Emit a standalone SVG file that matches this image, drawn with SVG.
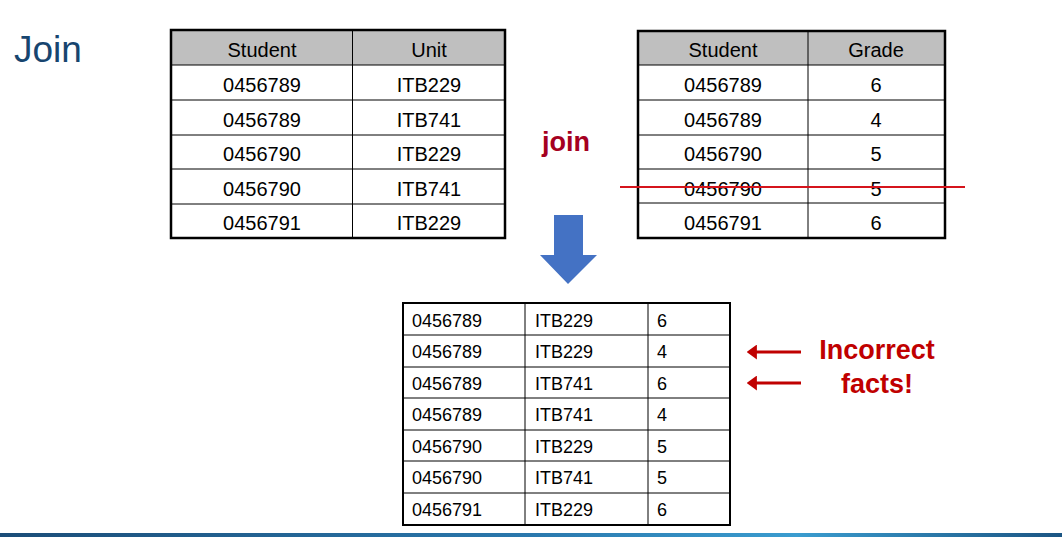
<svg xmlns="http://www.w3.org/2000/svg" width="1062" height="537" viewBox="0 0 1062 537">
<style>
text{font-family:"Liberation Sans",Arial,sans-serif;fill:#000}
.t{font-size:20px;text-anchor:middle}
.b{font-size:18px}
.hd{fill:#bfbfbf}
.in{stroke:#000;stroke-width:1;fill:none}
.out{stroke:#000;stroke-width:2.5;fill:none}
.red{font-weight:bold;fill:#c00000;font-size:27px;text-anchor:middle}
</style>
<defs>
<linearGradient id="bar" x1="0" x2="1" y1="0" y2="0">
<stop offset="0" stop-color="#1b4d78"/>
<stop offset="0.5" stop-color="#2a78ad"/>
<stop offset="0.75" stop-color="#3a9ccf"/>
<stop offset="1" stop-color="#1b5583"/>
</linearGradient>
<marker id="ah" markerWidth="3.4" markerHeight="5" refX="0.3" refY="2.5" orient="auto" markerUnits="strokeWidth">
<path d="M0,0 L3.4,2.5 L0,5 Z" fill="#c00000"/>
</marker>
</defs>
<rect width="1062" height="537" fill="#fff"/>
<text x="14" y="62" style="font-size:37px;fill:#17456f">Join</text>

<g id="table-unit">
<rect x="171" y="30" width="334" height="35" class="hd"/>
<path class="in" d="M171,65H505M171,100H505M171,135H505M171,169H505M171,204H505M352.5,30V238"/>
<rect x="171" y="30" width="334" height="208" class="out"/>
<text class="t" x="262" y="57">Student</text><text class="t" x="429" y="57">Unit</text>
<text class="t" x="262" y="92">0456789</text><text class="t" x="429" y="92">ITB229</text>
<text class="t" x="262" y="127">0456789</text><text class="t" x="429" y="127">ITB741</text>
<text class="t" x="262" y="161">0456790</text><text class="t" x="429" y="161">ITB229</text>
<text class="t" x="262" y="196">0456790</text><text class="t" x="429" y="196">ITB741</text>
<text class="t" x="262" y="230">0456791</text><text class="t" x="429" y="230">ITB229</text>
</g>

<g id="table-grade">
<rect x="638" y="31" width="307" height="34" class="hd"/>
<path class="in" d="M638,65H945M638,100H945M638,135H945M638,169H945M638,203H945M808,31V238"/>
<rect x="638" y="31" width="307" height="207" class="out"/>
<text class="t" x="723" y="57">Student</text><text class="t" x="876" y="57">Grade</text>
<text class="t" x="723" y="92">0456789</text><text class="t" x="876" y="92">6</text>
<text class="t" x="723" y="127">0456789</text><text class="t" x="876" y="127">4</text>
<text class="t" x="723" y="161">0456790</text><text class="t" x="876" y="161">5</text>
<text class="t" x="723" y="196">0456790</text><text class="t" x="876" y="196">5</text>
<text class="t" x="723" y="230">0456791</text><text class="t" x="876" y="230">6</text>
<line x1="620" y1="187" x2="965" y2="187" stroke="#d5141c" stroke-width="2"/>
</g>

<g id="join-label">
<text x="566" y="151" style="font-size:27px;font-weight:bold;fill:#a50021;text-anchor:middle">join</text>
</g>

<g id="table-result">
<path class="in" d="M403,335H730M403,367H730M403,398H730M403,430H730M403,461H730M403,493H730M525,303V525M648,303V525"/>
<rect x="403" y="303" width="327" height="222" stroke="#000" stroke-width="2" fill="none"/>
<g class="b">
<text x="412" y="327">0456789</text><text x="535" y="327">ITB229</text><text x="657" y="327">6</text>
<text x="412" y="358">0456789</text><text x="535" y="358">ITB229</text><text x="657" y="358">4</text>
<text x="412" y="390">0456789</text><text x="535" y="390">ITB741</text><text x="657" y="390">6</text>
<text x="412" y="421">0456789</text><text x="535" y="421">ITB741</text><text x="657" y="421">4</text>
<text x="412" y="453">0456790</text><text x="535" y="453">ITB229</text><text x="657" y="453">5</text>
<text x="412" y="484">0456790</text><text x="535" y="484">ITB741</text><text x="657" y="484">5</text>
<text x="412" y="516">0456791</text><text x="535" y="516">ITB229</text><text x="657" y="516">6</text>
</g>
</g>

<g id="note">
<text class="red" x="877" y="359">Incorrect</text>
<text class="red" x="877" y="393">facts!</text>
</g>

<g id="connectors">
<path d="M554,215H583V255H597L568,284L540,255H554Z" fill="#4472c4"/>
<line x1="801" y1="352" x2="756" y2="352" stroke="#c00000" stroke-width="3" marker-end="url(#ah)"/>
<line x1="801" y1="383" x2="756" y2="383" stroke="#c00000" stroke-width="3" marker-end="url(#ah)"/>
</g>

<rect x="0" y="533" width="1062" height="4" fill="url(#bar)"/>
</svg>
